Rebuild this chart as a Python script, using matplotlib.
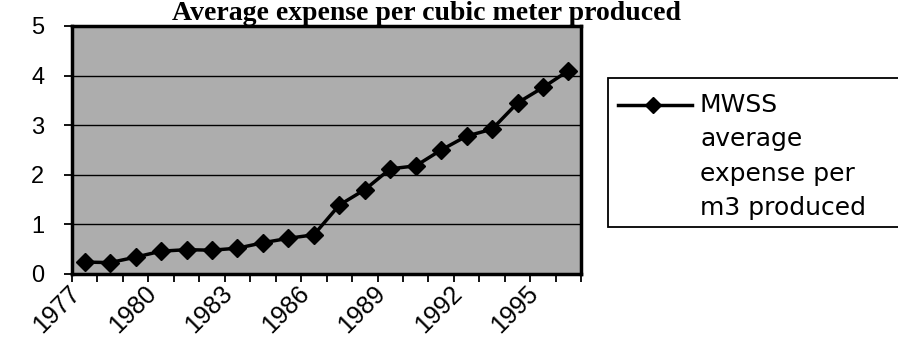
#!/usr/bin/env python3

import matplotlib
matplotlib.use('Agg')
import matplotlib.pyplot as plt
from matplotlib.lines import Line2D
from matplotlib.patches import Rectangle

years = list(range(1977, 1997))
expense = [0.24, 0.23, 0.34, 0.46, 0.49, 0.48, 0.52, 0.63, 0.72, 0.79,
           1.39, 1.70, 2.12, 2.18, 2.50, 2.78, 2.92, 3.45, 3.76, 4.10]
label_years = [1977, 1980, 1983, 1986, 1989, 1992, 1995]
y_ticks = [0, 1, 2, 3, 4, 5]
title = 'Average expense per cubic meter produced'
legend_lines = ['MWSS', 'average', 'expense per', 'm3 produced']

plt.rcParams['font.family'] = ['Liberation Sans', 'DejaVu Sans']

fig = plt.figure(figsize=(8.98, 3.59), dpi=100)
fig.patch.set_facecolor('white')
ax = fig.add_axes([0.0802, 0.2368, 0.567, 0.6908])
ax.set_facecolor('#adadad')

x = list(range(len(years)))
ax.plot(x, expense, color='black', lw=2.5, marker='D', markersize=9,
        markerfacecolor='black', markeredgecolor='black', zorder=3)

ax.set_xlim(-0.5, len(years) - 0.5)
ax.set_ylim(0, 5)
ax.set_yticks(y_ticks)
ax.set_yticklabels([str(v) for v in y_ticks], fontsize=17)
for v in y_ticks[1:-1]:
    ax.axhline(v, color='black', lw=1.0, zorder=1)

# ticks on category boundaries, labels on every third category centre
ax.set_xticks([i - 0.5 for i in range(len(years) + 1)])
ax.set_xticklabels([])
ax.tick_params(axis='x', which='major', direction='out', length=6,
               width=1.3, color='black')
ax.set_xticks([years.index(y) for y in label_years], minor=True)
ax.set_xticklabels([str(y) for y in label_years], minor=True,
                   rotation=45, ha='right', va='top', fontsize=18)
ax.tick_params(axis='x', which='minor', length=0, pad=5)
ax.tick_params(axis='y', direction='out', length=6, width=1.3, pad=14)

for s in ax.spines.values():
    s.set_linewidth(2.5)
    s.set_color('black')

# title sits right at the top edge
fig.text(0.475, 0.998, title, ha='center', va='top',
         fontsize=20, fontweight='bold', family='Liberation Serif')

# legend drawn by hand (handle sits on the first text line)
fig.patches.append(Rectangle((608 / 898, 1 - 227 / 359), 0.5,
                             (227 - 78) / 359, transform=fig.transFigure,
                             facecolor='white', edgecolor='black', lw=1.3))
ly = 1 - 105 / 359
fig.lines.append(Line2D([618 / 898, 692 / 898], [ly, ly],
                        transform=fig.transFigure, color='black', lw=2.5))
fig.lines.append(Line2D([653 / 898], [ly], transform=fig.transFigure,
                        marker='D', markersize=8, color='black'))
for i, line in enumerate(legend_lines):
    fig.text(700 / 898, 1 - (105 + 34.3 * i) / 359, line, ha='left',
             va='center', fontsize=18, family='DejaVu Sans')

fig.savefig('out.png', dpi=100)
